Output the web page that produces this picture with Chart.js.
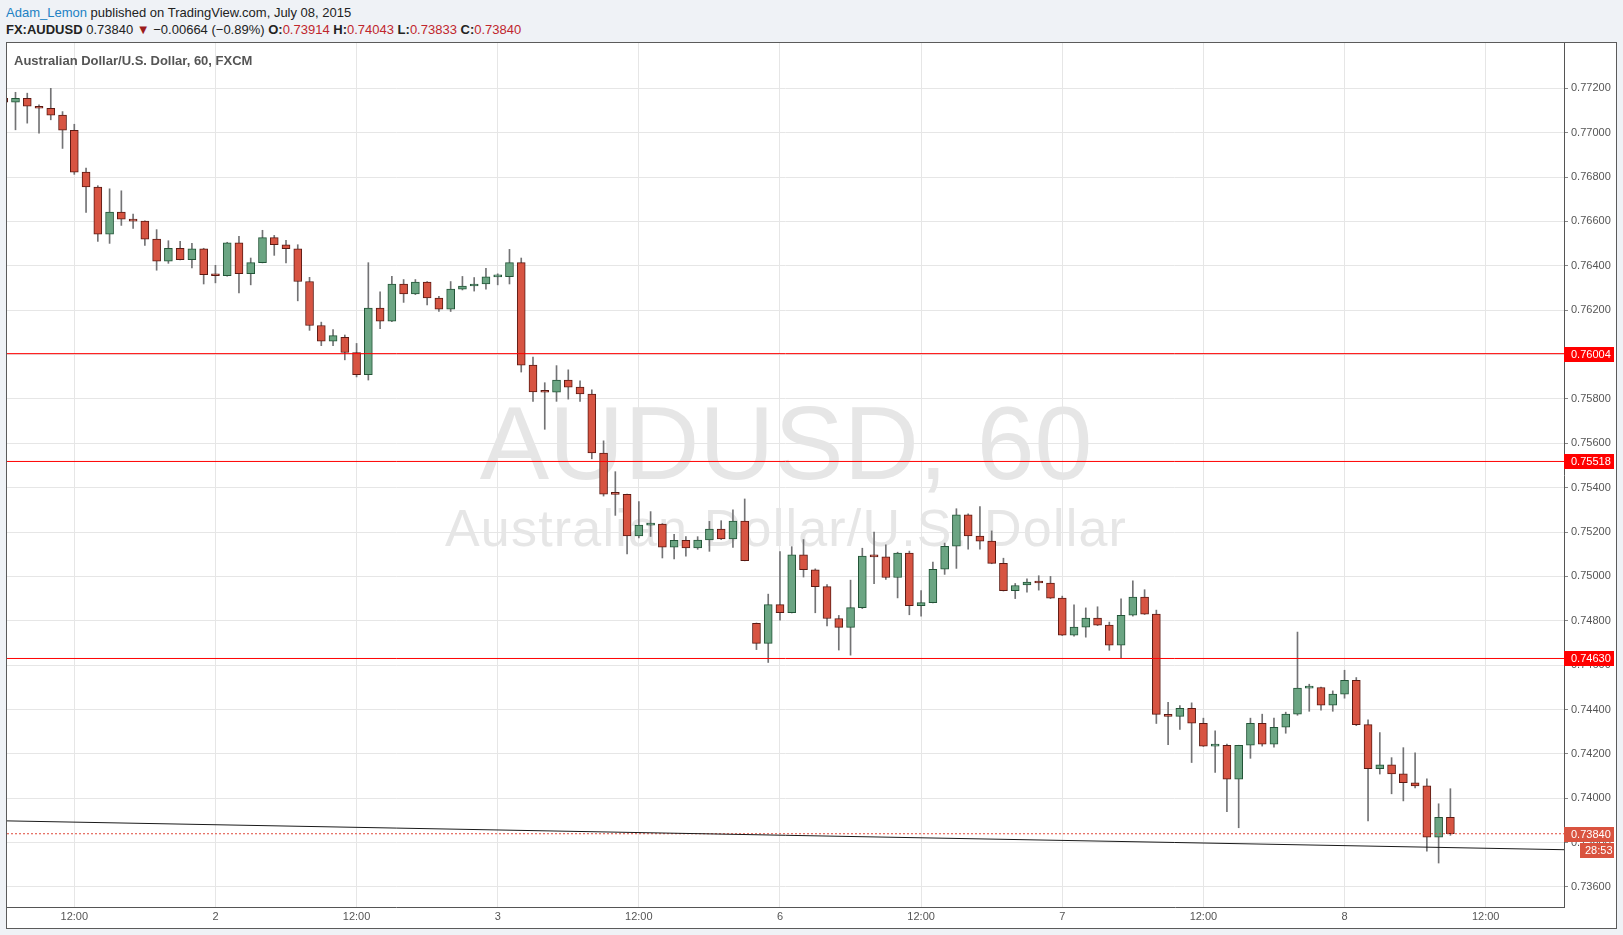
<!DOCTYPE html>
<html>
<head>
<meta charset="utf-8">
<script src="https://cdn.jsdelivr.net/npm/chart.js@4.4.1/dist/chart.umd.min.js"></script>
<style>
  html, body { margin: 0; padding: 0; background: #eff2f6; }
  body { width: 1623px; height: 935px; position: relative; overflow: hidden;
         font-family: "Liberation Sans", Arial, sans-serif; }
  .hdr { position: absolute; left: 6px; font-size: 13px; line-height: 15px; color: #222; white-space: nowrap; }
  #hdr1 { top: 5px; }
  #hdr2 { top: 22px; }
  .user { color: #2181c4; }
  .b { font-weight: bold; }
  .v { color: #c0262d; }
  .dn { color: #9b1b1b; font-size: 13px; }
  #panel { position: absolute; left: 6px; top: 42px; width: 1611px; height: 887px;
           box-sizing: border-box; border: 1px solid #5b5b5b; background: #fff; }
  .wm { position: absolute; left: 0; width: 1558px; text-align: center; color: #e6e6e6; white-space: nowrap; line-height: 1; }
  #wm1 { font-size: 104px; top: 348px; }
  #wm2 { font-size: 52px; letter-spacing: 1.2px; top: 459px; }
  #chart { position: absolute; left: 0; top: 0; z-index: 2; }
  #title { position: absolute; left: 14px; top: 53px; z-index: 3; font-size: 13px; line-height: 15px;
           font-weight: bold; color: #555; white-space: nowrap; }
</style>
</head>
<body>
<div class="hdr" id="hdr1"><span class="user">Adam_Lemon</span> published on TradingView.com, July 08, 2015</div>
<div class="hdr" id="hdr2"><span class="b">FX:AUDUSD</span> 0.73840 <span class="dn">&#9660;</span> &minus;0.00664 (&minus;0.89%) <span class="b">O:</span><span class="v">0.73914</span> <span class="b">H:</span><span class="v">0.74043</span> <span class="b">L:</span><span class="v">0.73833</span> <span class="b">C:</span><span class="v">0.73840</span></div>
<div id="panel">
  <div class="wm" id="wm1">AUDUSD, 60</div>
  <div class="wm" id="wm2">Australian Dollar/U.S. Dollar</div>
</div>
<div id="title">Australian Dollar/U.S. Dollar, 60, FXCM</div>
<canvas id="chart" width="1623" height="935"></canvas>
<script>
// hourly candles, 1 Jul 06:00 -> 8 Jul 09:00 (weekend gap removed)
const opens = [
  0.77155, 0.77137, 0.77155, 0.77119, 0.77110, 0.77079, 0.77011, 0.76822, 0.76755, 0.76543,
  0.76642, 0.76610, 0.76601, 0.76520, 0.76421, 0.76479, 0.76428, 0.76477, 0.76360, 0.76355,
  0.76504, 0.76365, 0.76414, 0.76527, 0.76495, 0.76477, 0.76329, 0.76131, 0.76060, 0.76077,
  0.76009, 0.75909, 0.76209, 0.76150, 0.76318, 0.76273, 0.76327, 0.76255, 0.76205, 0.76295,
  0.76309, 0.76318, 0.76350, 0.76351, 0.76414, 0.75952, 0.75831, 0.75830, 0.75885, 0.75853,
  0.75822, 0.75556, 0.75371, 0.75370, 0.75182, 0.75231, 0.75236, 0.75132, 0.75162, 0.75128,
  0.75164, 0.75213, 0.75169, 0.75249, 0.74788, 0.74698, 0.74873, 0.74837, 0.75097, 0.75030,
  0.74954, 0.74810, 0.74770, 0.74859, 0.75091, 0.75088, 0.74995, 0.75105, 0.74868, 0.74882,
  0.75032, 0.75136, 0.75277, 0.75182, 0.75159, 0.75059, 0.74936, 0.74961, 0.74974, 0.74970,
  0.74902, 0.74735, 0.74771, 0.74812, 0.74780, 0.74690, 0.74825, 0.74907, 0.74830, 0.74378,
  0.74369, 0.74405, 0.74338, 0.74235, 0.74238, 0.74086, 0.74239, 0.74338, 0.74244, 0.74320,
  0.74379, 0.74496, 0.74499, 0.74420, 0.74469, 0.74532, 0.74332, 0.74133, 0.74151, 0.74110,
  0.74070, 0.74056, 0.73825, 0.73914
];
const highs = [
  0.77170, 0.77182, 0.77178, 0.77125, 0.77200, 0.77095, 0.77038, 0.76840, 0.76761, 0.76747,
  0.76738, 0.76633, 0.76603, 0.76563, 0.76513, 0.76510, 0.76501, 0.76479, 0.76402, 0.76506,
  0.76533, 0.76435, 0.76560, 0.76537, 0.76515, 0.76495, 0.76348, 0.76146, 0.76112, 0.76088,
  0.76050, 0.76414, 0.76283, 0.76352, 0.76338, 0.76338, 0.76329, 0.76262, 0.76329, 0.76352,
  0.76347, 0.76388, 0.76364, 0.76474, 0.76435, 0.75988, 0.75873, 0.75950, 0.75931, 0.75882,
  0.75841, 0.75611, 0.75472, 0.75371, 0.75337, 0.75292, 0.75238, 0.75190, 0.75179, 0.75179,
  0.75248, 0.75251, 0.75300, 0.75349, 0.74790, 0.74920, 0.75112, 0.75134, 0.75166, 0.75034,
  0.74963, 0.74824, 0.74983, 0.75127, 0.75200, 0.75142, 0.75109, 0.75114, 0.74936, 0.75065,
  0.75150, 0.75305, 0.75282, 0.75315, 0.75205, 0.75082, 0.74968, 0.74989, 0.75003, 0.75000,
  0.74911, 0.74872, 0.74858, 0.74863, 0.74794, 0.74899, 0.74980, 0.74940, 0.74848, 0.74432,
  0.74418, 0.74430, 0.74361, 0.74304, 0.74244, 0.74239, 0.74361, 0.74379, 0.74361, 0.74388,
  0.74749, 0.74514, 0.74501, 0.74484, 0.74577, 0.74544, 0.74354, 0.74296, 0.74183, 0.74228,
  0.74205, 0.74088, 0.73975, 0.74043
];
const lows = [
  0.77120, 0.77013, 0.77043, 0.76998, 0.77058, 0.76929, 0.76812, 0.76640, 0.76510, 0.76501,
  0.76582, 0.76568, 0.76492, 0.76380, 0.76411, 0.76426, 0.76390, 0.76318, 0.76323, 0.76353,
  0.76278, 0.76314, 0.76413, 0.76447, 0.76413, 0.76242, 0.76109, 0.76040, 0.76040, 0.75976,
  0.75899, 0.75885, 0.76117, 0.76148, 0.76235, 0.76270, 0.76224, 0.76194, 0.76194, 0.76291,
  0.76286, 0.76295, 0.76314, 0.76318, 0.75921, 0.75789, 0.75663, 0.75789, 0.75799, 0.75789,
  0.75530, 0.75362, 0.75275, 0.75101, 0.75173, 0.75180, 0.75083, 0.75079, 0.75091, 0.75122,
  0.75113, 0.75166, 0.75131, 0.75070, 0.74670, 0.74612, 0.74803, 0.74835, 0.74997, 0.74836,
  0.74777, 0.74668, 0.74645, 0.74855, 0.74967, 0.74986, 0.74903, 0.74827, 0.74821, 0.74880,
  0.75009, 0.75036, 0.75123, 0.75123, 0.75057, 0.74934, 0.74900, 0.74929, 0.74938, 0.74900,
  0.74733, 0.74730, 0.74726, 0.74778, 0.74667, 0.74634, 0.74821, 0.74828, 0.74337, 0.74242,
  0.74310, 0.74161, 0.74233, 0.74116, 0.73939, 0.73867, 0.74180, 0.74235, 0.74230, 0.74293,
  0.74374, 0.74392, 0.74397, 0.74392, 0.74451, 0.74327, 0.73898, 0.74109, 0.74020, 0.73988,
  0.74047, 0.73762, 0.73708, 0.73833
];
const closes = [
  0.77137, 0.77155, 0.77119, 0.77110, 0.77079, 0.77011, 0.76822, 0.76755, 0.76543, 0.76642,
  0.76610, 0.76601, 0.76520, 0.76421, 0.76479, 0.76428, 0.76477, 0.76360, 0.76355, 0.76504,
  0.76365, 0.76414, 0.76527, 0.76495, 0.76477, 0.76329, 0.76131, 0.76060, 0.76085, 0.76009,
  0.75909, 0.76209, 0.76150, 0.76318, 0.76273, 0.76327, 0.76255, 0.76205, 0.76295, 0.76309,
  0.76318, 0.76350, 0.76351, 0.76414, 0.75952, 0.75831, 0.75830, 0.75885, 0.75853, 0.75822,
  0.75556, 0.75371, 0.75370, 0.75182, 0.75231, 0.75236, 0.75132, 0.75162, 0.75128, 0.75164,
  0.75213, 0.75169, 0.75249, 0.75071, 0.74698, 0.74873, 0.74837, 0.75097, 0.75030, 0.74954,
  0.74810, 0.74770, 0.74859, 0.75091, 0.75088, 0.74995, 0.75105, 0.74868, 0.74882, 0.75032,
  0.75136, 0.75277, 0.75182, 0.75159, 0.75059, 0.74936, 0.74959, 0.74974, 0.74970, 0.74902,
  0.74735, 0.74771, 0.74812, 0.74780, 0.74690, 0.74825, 0.74907, 0.74830, 0.74378, 0.74369,
  0.74405, 0.74338, 0.74235, 0.74238, 0.74086, 0.74239, 0.74338, 0.74244, 0.74320, 0.74379,
  0.74496, 0.74499, 0.74420, 0.74469, 0.74532, 0.74332, 0.74133, 0.74151, 0.74110, 0.74070,
  0.74056, 0.73825, 0.73914, 0.73840
];

// horizontal levels drawn on the chart
const levels = [0.76004, 0.75518, 0.74630];
const lastPrice = 0.73840;
const countdown = '28:53';
// support trendline (candle index, price)
const trendX = [0.278, 132.66];
const trendY = [0.73898, 0.73768];

const xTickIdx = [6, 18, 30, 42, 54, 66, 78, 90, 102, 114, 126];
const xTickLabels = ['12:00', '2', '12:00', '3', '12:00', '6', '12:00', '7', '12:00', '8', '12:00'];
const yTicks = [0.736, 0.738, 0.740, 0.742, 0.744, 0.746, 0.748, 0.750, 0.752, 0.754,
                0.756, 0.758, 0.760, 0.762, 0.764, 0.766, 0.768, 0.770, 0.772];

const X_MIN = 0.278, X_MAX = 132.66;
const Y_MIN = 0.735098, Y_MAX = 0.774042;

const UP = '#6ba583', UP_BORDER = '#225437';
const DOWN = '#d75442', DOWN_BORDER = '#5b1a13';
const FONT = '"Liberation Sans", Arial, sans-serif';

const isUp = opens.map((o, i) => closes[i] >= o);

const tagPlugin = {
  id: 'priceTags',
  afterDraw(chart) {
    const ctx = chart.ctx;
    const ys = chart.scales.y;
    const x0 = chart.chartArea.right;
    ctx.save();
    ctx.font = '11px ' + FONT;
    ctx.textBaseline = 'middle';
    levels.forEach(v => {
      const py = Math.round(ys.getPixelForValue(v));
      ctx.fillStyle = '#ff0000';
      ctx.fillRect(x0, py - 7, 50, 15);
      ctx.fillStyle = '#ffffff';
      ctx.fillText(v.toFixed(5), x0 + 7, py + 1);
    });
    const py = Math.round(ys.getPixelForValue(lastPrice));
    ctx.fillStyle = '#d9533f';
    ctx.fillRect(x0, py - 7, 50, 15);
    ctx.fillRect(x0 + 16, py + 9, 34, 15);
    ctx.fillStyle = '#ffffff';
    ctx.fillText(lastPrice.toFixed(5), x0 + 7, py + 1);
    ctx.fillText(countdown, x0 + 21, py + 17);
    ctx.restore();
  }
};

new Chart(document.getElementById('chart'), {
  type: 'bar',
  data: {
    datasets: [
      {
        label: 'wicks',
        data: opens.map((o, i) => ({ x: i, y: [lows[i], highs[i]] })),
        backgroundColor: '#737375',
        borderWidth: 0,
        barThickness: 1,
        grouped: false,
        order: 3
      },
      {
        label: 'bodies',
        data: opens.map((o, i) => ({ x: i, y: [o, closes[i]] })),
        backgroundColor: isUp.map(u => u ? UP : DOWN),
        borderColor: isUp.map(u => u ? UP_BORDER : DOWN_BORDER),
        borderWidth: 1,
        borderSkipped: false,
        barThickness: 8,
        minBarLength: 2,
        grouped: false,
        order: 2
      },
      ...levels.map(v => ({
        type: 'line',
        data: [{ x: X_MIN, y: v }, { x: X_MAX, y: v }],
        borderColor: '#ff0000',
        borderWidth: 1,
        pointRadius: 0,
        order: 1
      })),
      {
        type: 'line',
        data: [{ x: X_MIN, y: lastPrice }, { x: X_MAX, y: lastPrice }],
        borderColor: '#e0483a',
        borderWidth: 1,
        borderDash: [2, 2],
        pointRadius: 0,
        order: 1
      },
      {
        type: 'line',
        data: trendX.map((x, i) => ({ x: x, y: trendY[i] })),
        borderColor: '#1a1a1a',
        borderWidth: 1,
        pointRadius: 0,
        order: 0
      }
    ]
  },
  options: {
    responsive: false,
    animation: false,
    devicePixelRatio: 1,
    layout: { padding: { left: 7, top: 43, right: 7, bottom: 7 } },
    plugins: { legend: { display: false }, tooltip: { enabled: false } },
    scales: {
      x: {
        type: 'linear',
        min: X_MIN,
        max: X_MAX,
        offset: false,
        afterBuildTicks: s => { s.ticks = xTickIdx.map(v => ({ value: v })); },
        afterFit: s => { s.height = 21; },
        grid: { color: '#e6e6e6', drawTicks: false, offset: false },
        border: { color: '#555555', width: 1 },
        ticks: {
          color: '#555555',
          font: { size: 11, family: FONT },
          padding: 3,
          autoSkip: false,
          maxRotation: 0,
          callback: v => xTickLabels[xTickIdx.indexOf(v)]
        }
      },
      y: {
        position: 'right',
        min: Y_MIN,
        max: Y_MAX,
        afterBuildTicks: s => { s.ticks = yTicks.map(v => ({ value: v })); },
        afterFit: s => { s.width = 52; },
        grid: { color: '#e6e6e6', tickColor: '#888888', tickLength: 4 },
        border: { color: '#555555', width: 1 },
        ticks: {
          color: '#555555',
          font: { size: 11, family: FONT },
          padding: 3,
          callback: v => v.toFixed(5)
        }
      }
    }
  },
  plugins: [tagPlugin]
});
</script>
</body>
</html>
